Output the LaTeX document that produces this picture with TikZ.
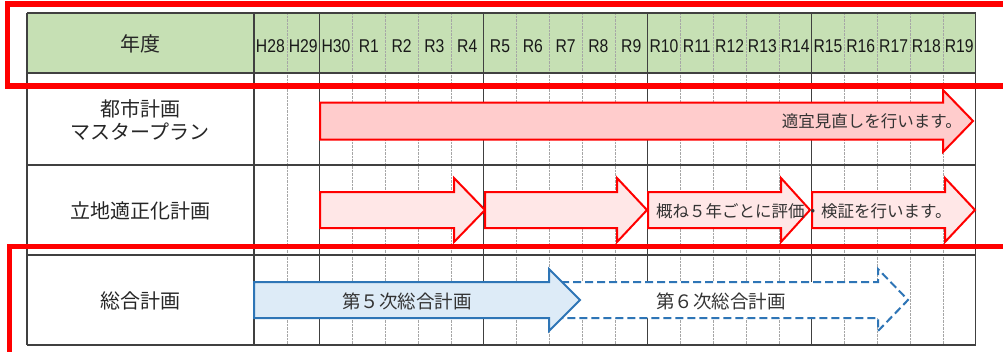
\documentclass[tikz,border=0pt]{standalone}
\usepackage{fontspec}
\setmainfont{Liberation Sans}
\newfontfamily\jpfont{Noto Sans CJK JP}
\newfontfamily\narrowfont[FakeStretch=0.85]{Liberation Sans}
\definecolor{headgreen}{HTML}{C6E0B4}
\definecolor{gridline}{HTML}{404040}
\definecolor{pinkA}{HTML}{FFCCCC}
\definecolor{pinkB}{HTML}{FFE7E7}
\definecolor{planblue}{HTML}{2E75B6}
\definecolor{lightblue}{HTML}{DDEBF7}
\tikzset{
  rowlab/.style={font=\jpfont\fontsize{20}{23}\selectfont, text=black!85, align=center, inner sep=0pt},
  year/.style={font=\narrowfont\fontsize{18.5}{20}\selectfont, text=black!90, inner sep=0pt},
  arrowtxt/.style={font=\jpfont\fontsize{16.5}{18}\selectfont, text=black!80, inner sep=0pt},
  redarrow/.style={draw=red, line width=2pt, line join=miter},
  bluearrow/.style={draw=planblue, line width=2pt, line join=miter},
  redframe/.style={draw=red, line width=5.5pt}
}
\begin{document}
\begin{tikzpicture}[x=1pt, y=-1pt]
  \useasboundingbox (0,0) rectangle (1003,351);

  % Naglowek
  \fill[headgreen] (27,13) rectangle (975.7,73);

  % Linie siatki
  \foreach \i in {1,3,4,5,6,8,9,10,11,13,14,15,16,18,19,20,21}
    \draw[gray!70, densely dotted] ({254+\i*32.8},13) -- ({254+\i*32.8},345);
  \foreach \x in {27,254,319.6,483.6,647.6,811.6,975.7}
    \draw[gridline, line width=1.3pt] (\x,13) -- (\x,345);
  \foreach \y in {13,73,165,255,345}
    \draw[gridline, line width=1.3pt] (27,\y) -- (975.7,\y);

  % Lata
  \node[rowlab] (nendo) at (140,44) {年度};
  \foreach \lab [count=\i from 0] in {H28,H29,H30,R1,R2,R3,R4,R5,R6,R7,R8,R9,R10,R11,R12,R13,R14,R15,R16,R17,R18,R19}
    \node[year] (yr\i) at ({254+(\i+0.5)*32.8},46.5) {\lab};

  % Wiersze
  \node[rowlab] (toshi) at (140,120) {都市計画\\マスタープラン};
  \node[rowlab] (ricchi) at (140,211) {立地適正化計画};
  \node[rowlab] (sogo) at (140,301) {総合計画};

  % Strzalka 1
  \draw[redarrow, fill=pinkA] (320,102.5) -- (943,102.5) -- (943,90) -- (973,121)
    -- (943,152) -- (943,139.5) -- (320,139.5) -- cycle;
  \node[arrowtxt, anchor=east] (minaoshi) at (962,121) {適宜見直しを行います。};

  % Strzalki co 5 lat
  \draw[redarrow, fill=pinkB] (320,192) -- (454,192) -- (454,178) -- (485,210)
    -- (454,242) -- (454,228) -- (320,228) -- cycle;
  \draw[redarrow, fill=pinkB] (485,192) -- (617,192) -- (617,178) -- (647,210)
    -- (617,242) -- (617,228) -- (485,228) -- cycle;
  \draw[redarrow, fill=pinkB] (648,192) -- (781,192) -- (781,178) -- (810,210)
    -- (781,242) -- (781,228) -- (648,228) -- cycle;
  \draw[redarrow, fill=pinkB] (812,192) -- (945,192) -- (945,178) -- (975,210)
    -- (945,242) -- (945,228) -- (812,228) -- cycle;
  \node[arrowtxt, anchor=west] (hyoka) at (656,211) {概ね５年ごとに評価・検証を行います。};

  % Plany ogolne
  \draw[bluearrow, dash pattern=on 8pt off 4pt, fill=white] (549,282) -- (878,282) -- (878,269)
    -- (908,300) -- (878,331) -- (878,318) -- (549,318) -- cycle;
  \draw[bluearrow, fill=lightblue] (254,282) -- (549,282) -- (549,269) -- (580,300)
    -- (549,331) -- (549,318) -- (254,318) -- cycle;
  \node[arrowtxt, font=\jpfont\fontsize{18.5}{20}\selectfont] (dai5) at (407,301) {第５次総合計画};
  \node[arrowtxt, font=\jpfont\fontsize{18.5}{20}\selectfont] (dai6) at (721,301) {第６次総合計画};

  % Ramki
  \draw[redframe] (1010,4) -- (7.5,4) -- (7.5,86) -- (1010,86);
  \draw[redframe] (1010,246.5) -- (9.5,246.5) -- (9.5,360);
\end{tikzpicture}
\end{document}
